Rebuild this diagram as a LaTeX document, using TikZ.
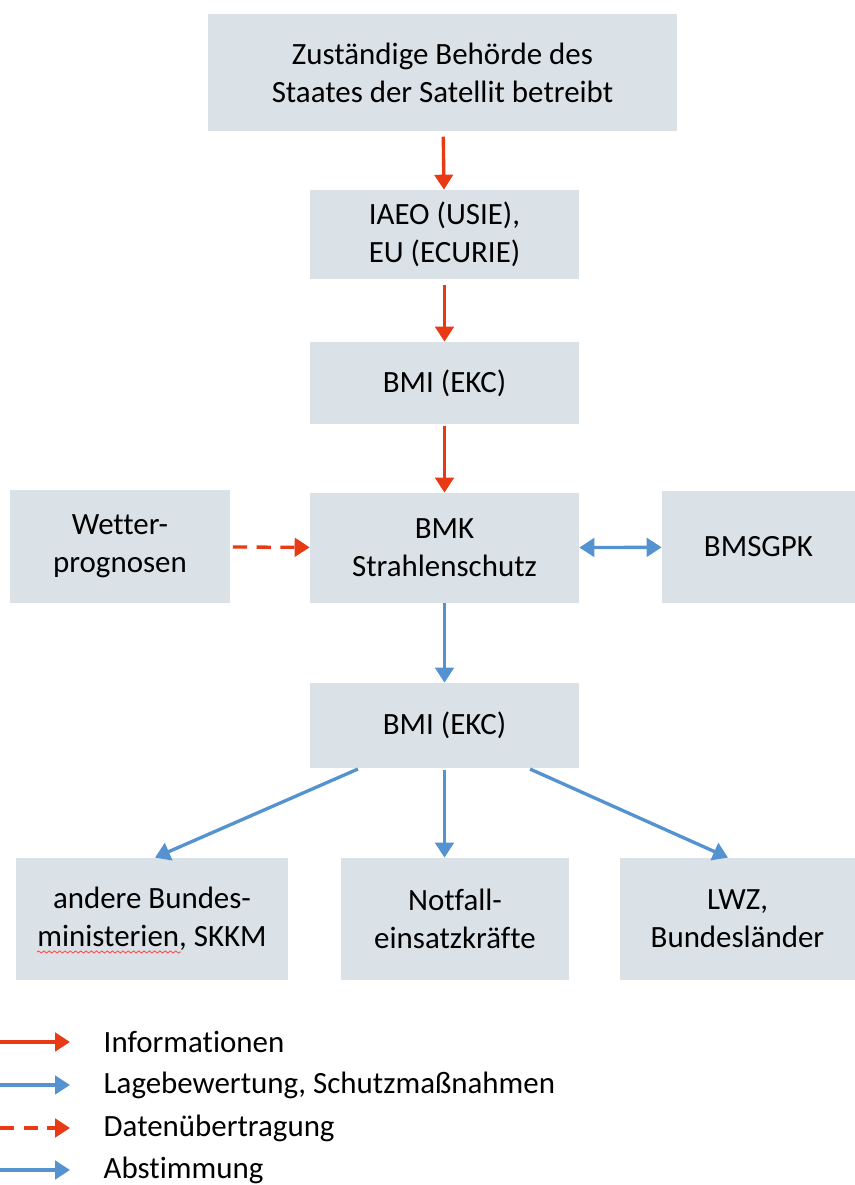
\documentclass[tikz,border=0pt]{standalone}
\usepackage{fontspec}
\setmainfont[Ligatures=NoCommon]{Carlito}
\usetikzlibrary{arrows.meta,positioning,calc,decorations.pathmorphing}

\definecolor{boxfill}{RGB}{218,226,232}
\definecolor{infored}{RGB}{232,58,20}
\definecolor{lageblue}{RGB}{84,146,208}

\begin{document}
\begin{tikzpicture}[
    box/.style={rectangle, fill=boxfill, align=center, inner sep=0pt, font=\fontsize{17.6}{21.5}\selectfont},
    info/.style={draw=infored, line width=1.9pt, -{Triangle[length=8.5pt, width=10.5pt]}},
    lage/.style={draw=lageblue, line width=1.9pt, -{Triangle[length=8.5pt, width=10.5pt]}},
    daten/.style={draw=infored, line width=1.9pt, dash pattern=on 8pt off 5.5pt, -{Triangle[length=8.5pt, width=10.5pt]}},
    abst/.style={draw=lageblue, line width=1.9pt, {Triangle[length=8.5pt, width=10.5pt]}-{Triangle[length=8.5pt, width=10.5pt]}},
    legend_label/.style={anchor=west, font=\fontsize{17.6}{21.5}\selectfont}
]

% Page size
\useasboundingbox (0,0) rectangle (17.1,23.7);

% Main column
\node[box, minimum width=9.38cm, minimum height=2.34cm] (staat) at (8.85,22.25) {Zuständige Behörde des\\Staates der Satellit betreibt};
\node[box, minimum width=5.38cm, minimum height=1.78cm] (iaeo) at (8.89,19.01) {IAEO (USIE),\\EU (ECURIE)};
\node[box, minimum width=5.38cm, minimum height=1.64cm] (bmiA) at (8.89,16.04) {BMI (EKC)};
\node[box, minimum width=5.38cm, minimum height=2.2cm] (bmk) at (8.89,12.74) {BMK\\Strahlenschutz};
\node[box, minimum width=5.38cm, minimum height=1.7cm] (bmiB) at (8.89,9.19) {BMI (EKC)};

% Side boxes
\node[box, minimum width=4.4cm, minimum height=2.26cm] (wetter) at (2.4,12.77) {Wetter-\\prognosen};
\node[box, minimum width=3.86cm, minimum height=2.24cm] (bmsgpk) at (15.17,12.76) {BMSGPK};

% Bottom row
\node[box, minimum width=5.44cm, minimum height=2.44cm] (andere) at (3.04,5.32) {andere Bundes-\\ministerien, SKKM};
\node[box, minimum width=4.56cm, minimum height=2.44cm] (notfall) at (9.1,5.32) {Notfall-\\einsatzkräfte};
\node[box, minimum width=4.7cm, minimum height=2.44cm] (lwz) at (14.75,5.32) {LWZ,\\Bundesländer};

% spell check mark
\draw[red!70, line width=0.5pt, decorate, decoration={snake, amplitude=0.6pt, segment length=3pt}] (0.74,4.66) -- (3.62,4.66);

% Connections
\draw[info, shorten <=3pt] (staat) -- (iaeo);
\draw[info, shorten <=3pt] (iaeo) -- (bmiA);
\draw[info, shorten <=1pt] (bmiA) -- (bmk);
\draw[daten, shorten <=1.5pt] (wetter) -- (bmk);
\draw[abst] (bmk) -- (bmsgpk);
\draw[lage] (bmk) -- (bmiB);
\draw[lage, shorten <=1pt] ([xshift=-1.7cm]bmiB.south) -- ([xshift=0.06cm]andere.north);
\draw[lage, shorten <=1pt] (bmiB.south) -- (bmiB.south |- notfall.north);
\draw[lage, shorten <=1pt] ([xshift=1.68cm]bmiB.south) -- ([xshift=-0.19cm]lwz.north);

% Legend
\coordinate (legA) at (0,2.86);
\coordinate (legB) at (0,2.0);
\coordinate (legC) at (0,1.14);
\coordinate (legD) at (0,0.3);
\node[legend_label] (infoL) at (1.95,2.86) {Informationen};
\node[legend_label] (lageL) at (1.95,2.0) {Lagebewertung, Schutzmaßnahmen};
\node[legend_label] (datenL) at (1.95,1.14) {Datenübertragung};
\node[legend_label] (abstL) at (1.95,0.3) {Abstimmung};
\draw[info] (legA) -- ++(1.4,0);
\draw[lage] (legB) -- ++(1.4,0);
\draw[daten] (legC) -- ++(1.4,0);
\draw[lage] (legD) -- ++(1.4,0);

\end{tikzpicture}
\end{document}
